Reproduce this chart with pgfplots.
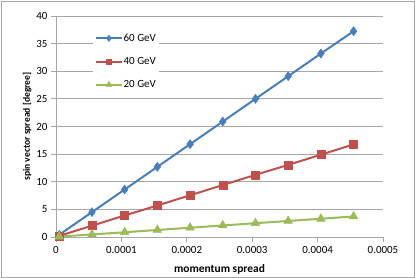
\documentclass[border=0pt]{standalone}
\usepackage{pgfplots}
\pgfplotsset{compat=1.18}
\usepackage{fontspec}
\setmainfont{Carlito}
\definecolor{cblue}{HTML}{4A7EBB}
\definecolor{cred}{HTML}{C0504D}
\definecolor{cgreen}{HTML}{9BBB59}
\definecolor{cgrid}{HTML}{A6A6A6}
\pgfplotstableread{
x y60 y40 y20
0.000005 0.41 0.20 0.08
0.000055 4.50 2.05 0.46
0.000105 8.60 3.90 0.86
0.000155 12.70 5.70 1.27
0.000205 16.80 7.55 1.68
0.000255 20.90 9.40 2.09
0.000305 25.00 11.25 2.50
0.000355 29.10 13.05 2.90
0.000405 33.20 14.90 3.30
0.000455 37.25 16.75 3.72
}\datatable
\begin{document}
\begin{tikzpicture}[x=1bp,y=1bp]
\useasboundingbox (0,0) rectangle (415,278);
\draw[cgrid,line width=0.8bp] (1,1) rectangle (414,277);
\begin{axis}[
  at={(56bp,41bp)}, anchor=south west,
  scale only axis, width=327bp, height=221bp,
  xmin=0, xmax=0.0005, ymin=0, ymax=40,
  xtick={0,0.0001,0.0002,0.0003,0.0004,0.0005},
  xticklabels={0,0.0001,0.0002,0.0003,0.0004,0.0005},
  scaled x ticks=false,
  ytick={0,5,...,40},
  yticklabels={0,5,10,15,20,25,30,35,40},
  axis x line*=bottom, axis y line*=left,
  axis line style={cgrid,line width=0.8bp,-},
  tick align=outside, major tick length=5bp,
  tick style={cgrid,line width=0.8bp},
  ymajorgrids, grid style={cgrid,line width=0.8bp},
  tick label style={font=\fontsize{11}{12}\selectfont, text=black},
  xticklabel style={yshift=-1bp},
  xlabel={\textbf{momentum spread}},
  ylabel={\textbf{spin vector spread [degree]}},
  xlabel style={font=\fontsize{11.5}{12}\selectfont, at={(ticklabel cs:0.5)}, yshift=-4bp},
  ylabel style={font=\fontsize{9.6}{12}\selectfont, yshift=-2bp},
  legend style={at={(rel axis cs:0.113,0.947)}, anchor=north west,
    draw=none, fill=white, font=\fontsize{11}{12}\selectfont,
    row sep=10.5bp, inner xsep=2bp, inner ysep=4bp,
    nodes={inner xsep=1bp}},
  legend cell align=left,
  legend image code/.code={\draw[mark repeat=2,mark phase=2,every mark/.append style={scale=0.7}] plot coordinates {(0cm,0cm)(0.45cm,0cm)(0.9cm,0cm)};},
]
\addplot[cblue, line width=2bp, mark=diamond*, mark size=4.5bp, mark options={fill=cblue,line width=0.5bp}] table[x=x,y=y60] {\datatable};
\addlegendentry{60 GeV}
\addplot[cred, line width=2bp, mark=square*, mark size=4bp, mark options={fill=cred,line width=0.5bp}] table[x=x,y=y40] {\datatable};
\addlegendentry{40 GeV}
\addplot[cgreen, line width=2bp, mark=triangle*, mark size=5bp, mark options={fill=cgreen,line width=0.5bp}] table[x=x,y=y20] {\datatable};
\addlegendentry{20 GeV}
\end{axis}
\end{tikzpicture}
\end{document}
